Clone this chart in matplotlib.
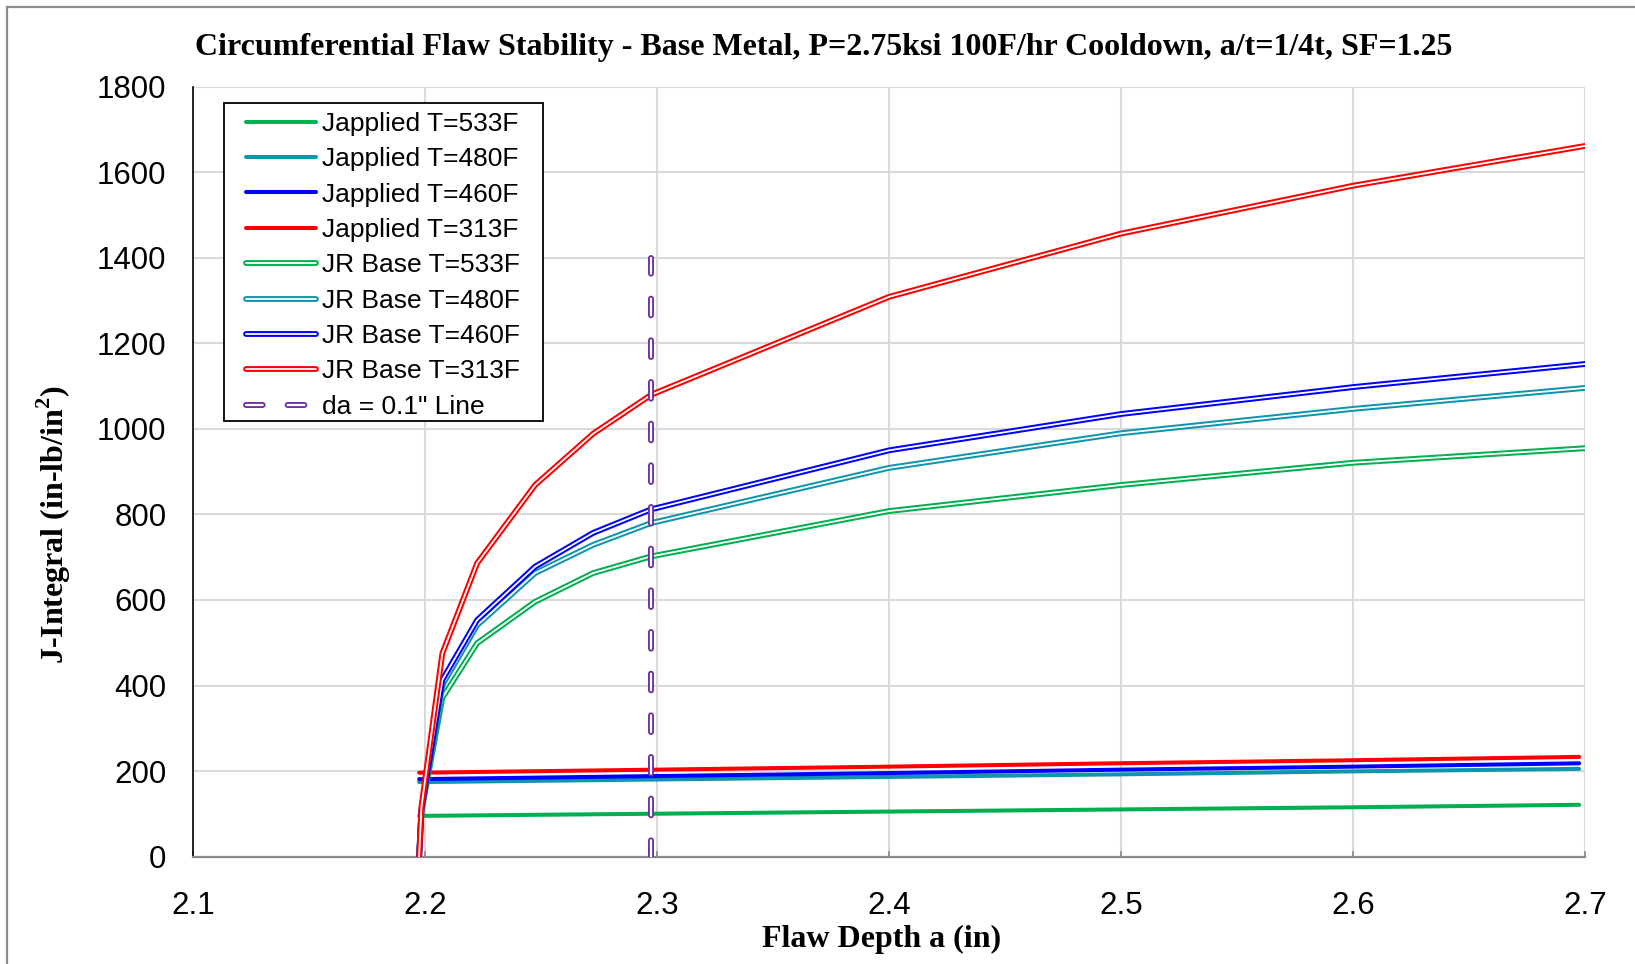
import numpy as np
import matplotlib
matplotlib.use("Agg")
import matplotlib.pyplot as plt
import matplotlib.patheffects as pe
from matplotlib.lines import Line2D
from matplotlib.patches import Rectangle

plt.rcParams["lines.scale_dashes"] = False
plt.rcParams["mathtext.fontset"] = "custom"
plt.rcParams["mathtext.bf"] = "Liberation Serif:bold"
plt.rcParams["mathtext.rm"] = "Liberation Serif"

# 데이터
temps = ["533F", "480F", "460F", "313F"]
colors = ["#00B050", "#1095AE", "#0000FF", "#FF0000"]

# J-applied : a 위치와 값
a_app = [2.1975, 2.2975, 2.3975, 2.4975, 2.5975, 2.6975]
j_app_533 = [95, 100, 105, 110, 115, 121]
j_app_480 = [174, 180, 186, 192, 199, 205]
j_app_460 = [181, 188, 195, 203, 210, 218]
j_app_313 = [196, 203, 210, 218, 225, 233]

# JR 곡선
a_jr = [2.1975, 2.1985, 2.2075, 2.2225, 2.2475, 2.2725, 2.2975, 2.4, 2.5, 2.6, 2.7]
jr_533 = [0, 105, 371, 499, 596, 663, 702, 808, 869, 921, 955]
jr_480 = [0, 108, 401, 541, 663, 729, 780, 909, 990, 1047, 1096]
jr_460 = [0, 110, 413, 553, 678, 757, 812, 950, 1035, 1098, 1152]
jr_313 = [0, 116, 475, 686, 869, 989, 1080, 1309, 1457, 1569, 1662]

# da = 0.1" 선
da_x = [2.2975, 2.2975]
da_y = [0, 1400]

j_app = [j_app_533, j_app_480, j_app_460, j_app_313]
jr = [jr_533, jr_480, jr_460, jr_313]

fig = plt.figure(figsize=(16.35, 9.64), dpi=100)
ax = fig.add_axes([0.118, 0.1115, 0.8514, 0.7983])

# 바깥 테두리 (회색)
fig.add_artist(Line2D([7 / 1635, 1], [1 - 7 / 964, 1 - 7 / 964], color="#8c8c8c", lw=1.6,
                      transform=fig.transFigure))
fig.add_artist(Line2D([7 / 1635, 7 / 1635], [0, 1 - 7 / 964], color="#8c8c8c", lw=1.6,
                      transform=fig.transFigure))

for t, c, ys in zip(temps, colors, j_app):
    ax.plot(a_app, ys, color=c, lw=2.9, label=f"Japplied T={t}", solid_capstyle="round", zorder=3)

for t, c, ys in zip(temps, colors, jr):
    ax.plot(a_jr, ys, color="white", lw=1.3, label=f"JR Base T={t}",
            solid_capstyle="round", solid_joinstyle="miter", zorder=4,
            path_effects=[pe.Stroke(linewidth=4.2, foreground=c), pe.Normal()])

ax.plot(da_x, da_y, color="white", lw=1.6, linestyle=(0, (12, 18)), dash_capstyle="round",
        label='da = 0.1" Line', zorder=5,
        path_effects=[pe.Stroke(linewidth=4.3, foreground="#7030A0"), pe.Normal()])

ax.set_xlim(2.1, 2.7)
ax.set_ylim(0, 1800)
ax.set_xticks(np.arange(2.1, 2.71, 0.1))
ax.set_yticks(np.arange(0, 1801, 200))
ax.set_xticklabels([f"{v:.1f}" for v in np.arange(2.1, 2.71, 0.1)])
ax.grid(True, color="#d9d9d9", lw=1.5, zorder=0)
ax.set_axisbelow(True)

for s in ["top", "right"]:
    ax.spines[s].set_visible(False)
ax.spines["left"].set_color("black")
ax.spines["left"].set_linewidth(1.2)
ax.spines["bottom"].set_color("#888888")
ax.spines["bottom"].set_linewidth(1.6)

ax.tick_params(axis="x", direction="in", length=4, width=1.2, color="#888888",
               labelsize=22.5, pad=25, labelfontfamily="Liberation Sans")
ax.tick_params(axis="y", length=0, labelsize=22.5, pad=19, labelfontfamily="Liberation Sans")

ax.set_xlabel("Flaw Depth a (in)", fontsize=23, fontweight="bold", family="Liberation Serif",
              labelpad=2.5)
ax.xaxis.label.set_x(0.4948)
ax.set_ylabel(r"J-Integral (in-lb/in$^\mathbf{2}$)", fontsize=23, fontweight="bold",
              family="Liberation Serif")
ax.yaxis.set_label_coords(-0.086, 0.431)
fig.text(0.5035, 1 - 48 / 964, "Circumferential Flaw Stability - Base Metal, P=2.75ksi 100F/hr Cooldown, a/t=1/4t, SF=1.25",
         ha="center", va="center", fontsize=23, fontweight="bold", family="Liberation Serif")

# 범례 테두리
ax.add_patch(Rectangle((0.0223, 0.566), 0.2291, 0.4132, transform=ax.transAxes,
                       facecolor="white", edgecolor="black", lw=1.3, zorder=9))
leg = ax.legend(loc="upper left", bbox_to_anchor=(0.0381, 0.9674), borderaxespad=0,
                prop={"family": "Liberation Sans", "size": 19}, handlelength=2.65,
                handletextpad=0.24, labelspacing=0.43, borderpad=0, frameon=False)
leg.set_zorder(10)

fig.savefig("out.png", dpi=100)
